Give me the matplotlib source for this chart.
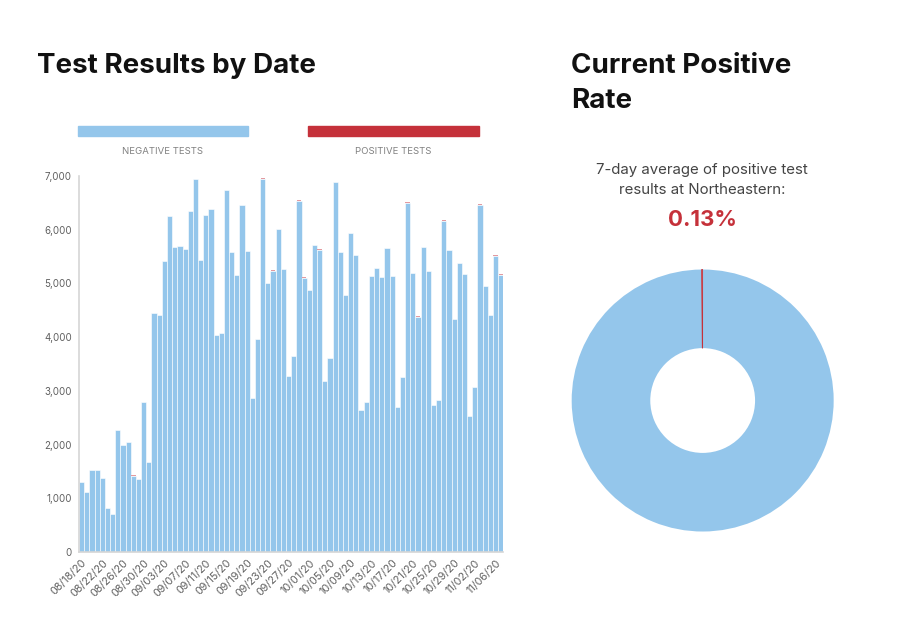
import matplotlib.pyplot as plt
import numpy as np
import pandas as pd
from matplotlib.ticker import FuncFormatter

BLUE = "#94c6eb"
RED = "#c5313a"

start_date = "2020-08-18"
negative_tests = [
    1310, 1120, 1520, 1530, 1380, 820, 710, 2275, 2000, 2045, 1425, 1365, 2790, 1680,
    4450, 4420, 5410, 6260, 5680, 5690, 5640, 6350, 6940, 5430, 6270, 6385, 4040, 4080,
    6740, 5580, 5160, 6455, 5610, 2875, 3970, 6950, 5010, 5240, 6015, 5270, 3280, 3645,
    6540, 5110, 4875, 5720, 5630, 3190, 3615, 6880, 5590, 4785, 5935, 5530, 2640, 2800,
    5140, 5295, 5125, 5665, 5140, 2705, 3265, 6505, 5190, 4385, 5680, 5230, 2730, 2835,
    6170, 5615, 4340, 5375, 5170, 2535, 3070, 6470, 4945, 4405, 5515, 5165,
]
positive_tests = [
    1, 0, 1, 1, 0, 0, 0, 1, 1, 1, 1, 1, 1, 1,
    2, 2, 3, 3, 2, 2, 2, 3, 8, 2, 3, 3, 2, 2,
    3, 3, 2, 3, 3, 1, 2, 8, 2, 2, 3, 2, 1, 2,
    6, 2, 2, 3, 3, 1, 2, 4, 3, 2, 3, 3, 1, 1,
    2, 2, 2, 3, 2, 1, 2, 8, 2, 2, 3, 2, 1, 1,
    6, 3, 8, 3, 2, 1, 2, 14, 3, 6, 12, 8,
]
rate_labels = ["Negative", "Positive"]
rate_values = [99.87, 0.13]

dates = pd.date_range(start_date, periods=len(negative_tests), freq="D")
x = np.arange(len(dates))

fig = plt.figure(figsize=(9, 6.21), dpi=100)
plt.rcParams["font.family"] = ["Inter", "DejaVu Sans"]

# bar chart
ax = fig.add_axes([0.0878, 0.111, 0.4715, 0.6055])
ax.bar(x, negative_tests, width=1.0, color=BLUE, edgecolor="white", linewidth=0.4)
ax.bar(x, positive_tests, width=0.85, bottom=negative_tests, color="#e39aa0",
       edgecolor="none", linewidth=0)
ax.set_xlim(-0.5, len(x) - 0.5)
ax.set_ylim(0, 7000)
ax.set_yticks(range(0, 7001, 1000))
ax.yaxis.set_major_formatter(FuncFormatter(lambda v, p: f"{int(v):,}"))
ax.set_xticks(x[::4])
ax.set_xticklabels([d.strftime("%m/%d/%y") for d in dates[::4]], rotation=45,
                   ha="right", rotation_mode="anchor")
ax.tick_params(axis="x", length=0, labelsize=7.8, colors="#606060", pad=4)
ax.tick_params(axis="y", length=0, labelsize=7, colors="#606060", pad=5)
for side in ["top", "right"]:
    ax.spines[side].set_visible(False)
for side in ["left", "bottom"]:
    ax.spines[side].set_color("#d6d6d6")
    ax.spines[side].set_linewidth(1.2)

# legend drawn as two coloured strips
leg = fig.add_axes([0, 0, 1, 1], facecolor="none")
leg.set_xlim(0, 900)
leg.set_ylim(621, 0)
leg.axis("off")
leg.add_patch(plt.Rectangle((78, 126), 170, 10, color=BLUE))
leg.add_patch(plt.Rectangle((308, 126), 171, 10, color=RED))
leg.text(163, 151, "NEGATIVE TESTS", ha="center", va="center", fontsize=6.9, color="#808080")
leg.text(393, 151, "POSITIVE TESTS", ha="center", va="center", fontsize=6.9, color="#808080")

# titles and captions
leg.text(37, 66, "Test Results by Date", ha="left", va="center", fontsize=20,
         fontweight="bold", color="#111111")
leg.text(571, 66, "Current Positive", ha="left", va="center", fontsize=20,
         fontweight="bold", color="#111111")
leg.text(571, 101, "Rate", ha="left", va="center", fontsize=20,
         fontweight="bold", color="#111111")
leg.text(702, 170, "7-day average of positive test", ha="center", va="center",
         fontsize=10.8, color="#444444")
leg.text(702, 190, "results at Northeastern:", ha="center", va="center",
         fontsize=10.8, color="#444444")
leg.text(702, 220, f"{rate_values[1]:.2f}%", ha="center", va="center", fontsize=16,
         fontweight="bold", color=RED)

# donut
dax = fig.add_axes([0.6352, 0.1441, 0.2911, 0.4219])
wedges, _ = dax.pie(rate_values, colors=[BLUE, RED], startangle=90, counterclock=False,
                    wedgeprops=dict(width=0.6, linewidth=0))
wedges[1].set_edgecolor(RED)
wedges[1].set_linewidth(0.5)
dax.set_xlim(-1, 1)
dax.set_ylim(-1, 1)
dax.set_aspect("auto")

fig.savefig("out.png", dpi=100)
